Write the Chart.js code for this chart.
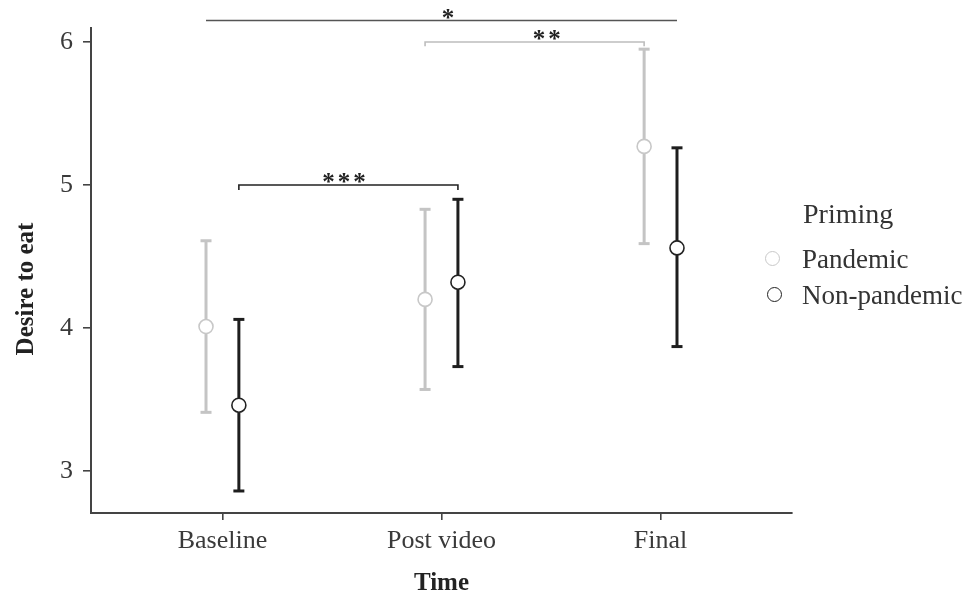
<!DOCTYPE html>
<html lang="en">
<head>
<meta charset="UTF-8">
<title>Desire to eat by time and priming</title>
<script src="https://cdn.jsdelivr.net/npm/chart.js"></script>
<style>
  html, body { margin:0; padding:0; background:#fff; }
  .wrap { position:relative; width:976px; height:593px; }
  .legend { position:absolute; left:0; top:0; font-family:'Liberation Serif', 'Times New Roman', serif; color:#333; }
  .lg-title { position:absolute; left:803px; top:198px; font-size:28px; line-height:32px; white-space:nowrap; }
  .lg-item { position:absolute; left:802px; font-size:27px; line-height:30px; white-space:nowrap; }
  .dot { position:absolute; width:13px; height:13px; border-radius:50%; background:#fff; border:1.5px solid; }
</style>
</head>
<body>
<div class="wrap">
  <canvas id="chart" width="976" height="593"></canvas>
  <div class="legend" id="legend"></div>
</div>
<script>
  // categories and series
  const times = ['Baseline', 'Post video', 'Final'];
  const seriesNames = ['Pandemic', 'Non-pandemic'];
  const seriesColors = ['#c4c4c4', '#1e1e1e'];

  const pandemicMean = [4.01, 4.20, 5.27];
  const pandemicLow  = [3.41, 3.57, 4.59];
  const pandemicHigh = [4.61, 4.83, 5.95];

  const nonPandemicMean = [3.46, 4.32, 4.56];
  const nonPandemicLow  = [2.86, 3.73, 3.87];
  const nonPandemicHigh = [4.06, 4.90, 5.26];

  const yTicks = [3, 4, 5, 6];

  // significance brackets (x in category units, y in data units)
  const bracketLabels = ['*', '**', '***'];
  const bracketStart  = [0.925, 1.925, 1.075];
  const bracketEnd    = [3.075, 2.925, 2.075];
  const bracketY      = [6.15, 6.0, 5.0];
  const bracketDrop   = [0, 0.03, 0.035];
  const bracketLabelX = [2.03, 2.48, 1.555];
  const bracketColors = ['#555555', '#bdbdbd', '#222222'];

  const dodge = [-0.075, 0.075];
  const SERIF = "'Liberation Serif', 'Times New Roman', serif";

  function errorData(low, high, off){
    return low.flatMap((lo, i) => [
      {x: i + 1 + off, y: lo},
      {x: i + 1 + off, y: high[i]},
      {x: i + 1 + off, y: null}
    ]);
  }
  function meanData(mean, off){
    return mean.map((m, i) => ({x: i + 1 + off, y: m}));
  }

  const means = [pandemicMean, nonPandemicMean];
  const lows = [pandemicLow, nonPandemicLow];
  const highs = [pandemicHigh, nonPandemicHigh];

  const datasets = [];
  // brackets
  bracketLabels.forEach((lab, k) => {
    const y = bracketY[k], d = bracketDrop[k];
    datasets.push({
      type: 'line',
      data: [
        {x: bracketStart[k], y: y - d},
        {x: bracketStart[k], y: y},
        {x: bracketEnd[k], y: y},
        {x: bracketEnd[k], y: y - d}
      ],
      borderColor: bracketColors[k],
      borderWidth: 1.6,
      pointRadius: 0,
      clip: false,
      order: 3
    });
  });
  // error bars
  seriesNames.forEach((name, s) => {
    datasets.push({
      type: 'line',
      data: errorData(lows[s], highs[s], dodge[s]),
      borderColor: seriesColors[s],
      borderWidth: 3,
      spanGaps: false,
      pointStyle: 'line',
      pointRadius: 5.5,
      pointBorderWidth: 3,
      pointBorderColor: seriesColors[s],
      order: 2
    });
  });
  // means
  seriesNames.forEach((name, s) => {
    datasets.push({
      type: 'scatter',
      label: name,
      data: meanData(means[s], dodge[s]),
      pointStyle: 'circle',
      pointRadius: 7,
      pointBackgroundColor: '#ffffff',
      pointBorderColor: s === 0 ? '#c8c8c8' : '#222222',
      pointBorderWidth: 1.6,
      showLine: false,
      order: 1
    });
  });

  const textPlugin = {
    id: 'extraText',
    afterDatasetsDraw(chart){
      const ctx = chart.ctx;
      const xs = chart.scales.x, ys = chart.scales.y;
      ctx.save();
      ctx.fillStyle = '#222';
      ctx.font = 'bold 25px ' + SERIF;
      ctx.textAlign = 'center';
      ctx.textBaseline = 'alphabetic';
      if ('letterSpacing' in ctx) ctx.letterSpacing = '3px';
      bracketLabels.forEach((lab, k) => {
        ctx.fillText(lab, xs.getPixelForValue(bracketLabelX[k]) + 1.5, ys.getPixelForValue(bracketY[k]) + 5);
      });
      if ('letterSpacing' in ctx) ctx.letterSpacing = '0px';
      // y axis title
      ctx.translate(27, 289);
      ctx.rotate(-Math.PI / 2);
      ctx.textBaseline = 'middle';
      ctx.font = 'bold 25px ' + SERIF;
      ctx.fillText('Desire to eat', 0, 0);
      ctx.restore();
    }
  };

  new Chart(document.getElementById('chart').getContext('2d'), {
    type: 'scatter',
    data: { datasets },
    options: {
      responsive: false,
      animation: false,
      layout: { padding: { left: 0, right: 184, top: 28, bottom: 0 } },
      plugins: { legend: { display: false }, tooltip: { enabled: false } },
      scales: {
        x: {
          type: 'linear',
          min: 0.4, max: 3.6,
          afterFit: s => { s.height = 80; },
          afterBuildTicks: s => { s.ticks = times.map((t, i) => ({ value: i + 1 })); },
          ticks: {
            callback: v => times[v - 1],
            font: { family: SERIF, size: 26 },
            color: '#3a3a3a',
            padding: 6,
            maxRotation: 0
          },
          grid: { drawOnChartArea: false, drawTicks: true, tickLength: 7, color: '#444', lineWidth: 1.6 },
          border: { display: true, color: '#444', width: 2 },
          title: {
            display: true, text: 'Time',
            font: { family: SERIF, size: 25, weight: 'bold', lineHeight: 1 },
            color: '#222', padding: { top: 0, bottom: -3 }
          }
        },
        y: {
          min: 2.706, max: 6.098,
          afterFit: s => { s.width = 91; },
          afterBuildTicks: s => { s.ticks = yTicks.map(v => ({ value: v })); },
          ticks: {
            font: { family: SERIF, size: 26 },
            color: '#3a3a3a',
            padding: 10
          },
          grid: { drawOnChartArea: false, drawTicks: true, tickLength: 8, color: '#444', lineWidth: 1.6 },
          border: { display: true, color: '#444', width: 2 },
          title: { display: false }
        }
      }
    },
    plugins: [textPlugin]
  });

  // legend
  const lg = document.getElementById('legend');
  lg.innerHTML = '<div class="lg-title">Priming</div>' + seriesNames.map((n, s) => {
    const top = 244 + s * 36;
    const dotLeft = 765 + s * 2;
    return `<span class="dot" style="left:${dotLeft}px;top:${top + 7}px;border-color:${s === 0 ? '#c8c8c8' : '#222'}"></span>` +
           `<div class="lg-item" style="top:${top}px">${n}</div>`;
  }).join('');
</script>
</body>
</html>
